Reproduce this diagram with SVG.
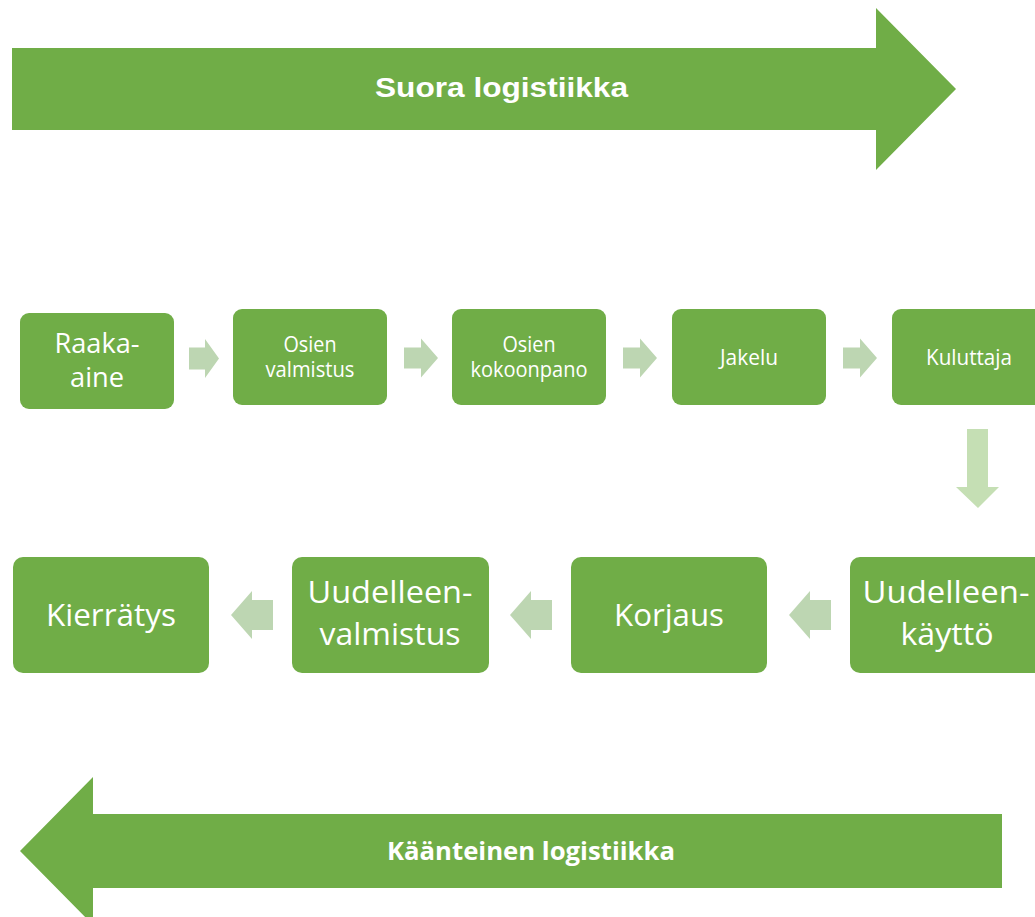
<svg xmlns="http://www.w3.org/2000/svg" width="1035" height="917" viewBox="0 0 1035 917">
  <style>
    .box { fill: #70AD47; }
    .big { fill: #70AD47; }
    .conn { fill: #BDD6B2; }
    .connv { fill: #C5DFB4; }
    .t { fill: #FFFFFF; font-family: "Open Sans", "Liberation Sans", sans-serif; text-anchor: middle; }
    .s { font-size: 22px; }
    .m { font-size: 28px; }
    .l { font-size: 31px; }
    .bt1 { fill: #FFFFFF; font-family: "Liberation Sans", Arial, sans-serif; font-weight: bold; font-size: 27px; text-anchor: middle; }
    .bt2 { fill: #FFFFFF; font-family: "Open Sans", "Liberation Sans", sans-serif; font-weight: bold; font-size: 25px; text-anchor: middle; }
  </style>
  <rect width="1035" height="917" fill="#FFFFFF"/>

  <g id="suora-logistiikka">
    <polygon class="big" points="12,48 876,48 876,8 956,89 876,170 876,130 12,130"/>
    <text class="bt1" x="501.5" y="97" textLength="253" lengthAdjust="spacingAndGlyphs">Suora logistiikka</text>
  </g>

  <g id="kaanteinen-logistiikka">
    <polygon class="big" points="1002,814 93,814 93,777 20,851 93,925 93,888 1002,888"/>
    <text class="bt2" x="531" y="860" textLength="288" lengthAdjust="spacingAndGlyphs">Käänteinen logistiikka</text>
  </g>

  <g id="connectors">
    <polygon class="conn" points="189,347.5 205,347.5 205,339 219,358.5 205,378 205,369.5 189,369.5"/>
    <polygon class="conn" points="404,347.5 421,347.5 421,338.5 438,358 421,377.5 421,368.5 404,368.5"/>
    <polygon class="conn" points="623,347.5 640,347.5 640,338.5 657,358 640,377.5 640,368.5 623,368.5"/>
    <polygon class="conn" points="843,347.5 860,347.5 860,338.5 877,358 860,377.5 860,368.5 843,368.5"/>
    <polygon class="connv" points="967,429 988,429 988,487 999,487 978,508 956,487 967,487"/>
    <polygon class="conn" points="831,600 810,600 810,591 789,615 810,639 810,630 831,630"/>
    <polygon class="conn" points="552,600 531,600 531,591 510,615 531,639 531,630 552,630"/>
    <polygon class="conn" points="273,600 252,600 252,591 231,615 252,639 252,630 273,630"/>
  </g>

  <g id="raaka-aine">
    <rect class="box" x="20" y="313" width="154" height="96" rx="9"/>
    <text class="t m" x="97" y="353" textLength="85" lengthAdjust="spacingAndGlyphs">Raaka-</text>
    <text class="t m" x="97" y="387" textLength="54" lengthAdjust="spacingAndGlyphs">aine</text>
  </g>
  <g id="osien-valmistus">
    <rect class="box" x="233" y="309" width="154" height="96" rx="9"/>
    <text class="t s" x="310" y="352" textLength="53" lengthAdjust="spacingAndGlyphs">Osien</text>
    <text class="t s" x="310" y="377" textLength="89" lengthAdjust="spacingAndGlyphs">valmistus</text>
  </g>
  <g id="osien-kokoonpano">
    <rect class="box" x="452" y="309" width="154" height="96" rx="9"/>
    <text class="t s" x="529" y="352" textLength="53" lengthAdjust="spacingAndGlyphs">Osien</text>
    <text class="t s" x="529" y="377" textLength="117" lengthAdjust="spacingAndGlyphs">kokoonpano</text>
  </g>
  <g id="jakelu">
    <rect class="box" x="672" y="309" width="154" height="96" rx="9"/>
    <text class="t s" x="749" y="365" textLength="58" lengthAdjust="spacingAndGlyphs">Jakelu</text>
  </g>
  <g id="kuluttaja">
    <rect class="box" x="892" y="309" width="154" height="96" rx="9"/>
    <text class="t s" x="969" y="365" textLength="86" lengthAdjust="spacingAndGlyphs">Kuluttaja</text>
  </g>

  <g id="uudelleenkaytto">
    <rect class="box" x="850" y="557" width="196" height="116" rx="10"/>
    <text class="t l" x="946" y="603" textLength="167" lengthAdjust="spacingAndGlyphs">Uudelleen-</text>
    <text class="t l" x="947" y="645" textLength="93" lengthAdjust="spacingAndGlyphs">käyttö</text>
  </g>
  <g id="korjaus">
    <rect class="box" x="571" y="557" width="196" height="116" rx="10"/>
    <text class="t l" x="669" y="626" textLength="110" lengthAdjust="spacingAndGlyphs">Korjaus</text>
  </g>
  <g id="uudelleenvalmistus">
    <rect class="box" x="292" y="557" width="197" height="116" rx="10"/>
    <text class="t l" x="390" y="603" textLength="165" lengthAdjust="spacingAndGlyphs">Uudelleen-</text>
    <text class="t l" x="390" y="645" textLength="141" lengthAdjust="spacingAndGlyphs">valmistus</text>
  </g>
  <g id="kierratys">
    <rect class="box" x="13" y="557" width="196" height="116" rx="10"/>
    <text class="t l" x="111" y="626" textLength="130" lengthAdjust="spacingAndGlyphs">Kierrätys</text>
  </g>
</svg>
